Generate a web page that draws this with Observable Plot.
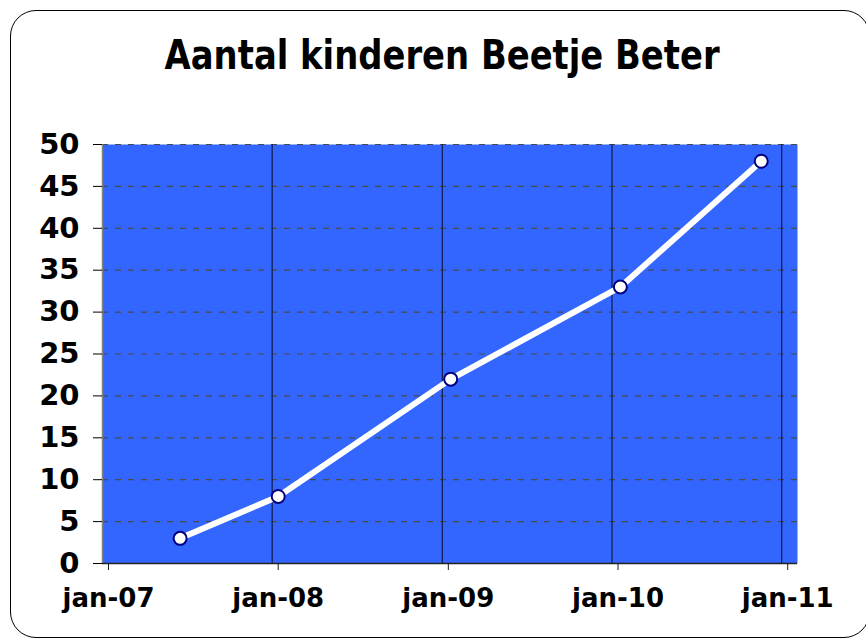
<!DOCTYPE html>
<html>
<head>
<meta charset="utf-8">
<script src="https://cdn.jsdelivr.net/npm/d3@7"></script>
<script src="https://cdn.jsdelivr.net/npm/@observablehq/plot@0.6"></script>
<style>
  html, body { margin: 0; padding: 0; background: #fff; }
  body { width: 866px; height: 641px; overflow: hidden; position: relative; font-family: "DejaVu Sans", Verdana, sans-serif; }
  #frame { position: absolute; left: 10px; top: 10px; width: 860px; height: 628px; border: 1.5px solid #000; border-radius: 26px; box-sizing: border-box; }
  #title { position: absolute; left: 9px; top: 32px; width: 866px; text-align: center; white-space: nowrap; }
  #title span { display: inline-block; font-weight: bold; font-size: 40px; color: #000; transform-origin: 50% 50%; }
  #chart { position: absolute; left: 0; top: 100px; }
</style>
</head>
<body>
<div id="frame"></div>
<div id="title"><span>Aantal kinderen Beetje Beter</span></div>
<div id="chart"></div>
<script>
const title = "Aantal kinderen Beetje Beter";
const dates = [new Date(2007, 5, 17), new Date(2008, 0, 14), new Date(2009, 0, 19), new Date(2010, 0, 19), new Date(2010, 10, 18)];
const counts = [3, 8, 22, 33, 48];
const xTickDates = [new Date(2007, 0, 1), new Date(2008, 0, 1), new Date(2009, 0, 1), new Date(2010, 0, 1), new Date(2011, 0, 1)];
const xTickLabels = ["jan-07", "jan-08", "jan-09", "jan-10", "jan-11"];
const yTicks = [0, 5, 10, 15, 20, 25, 30, 35, 40, 45, 50];

const data = dates.map((d, i) => ({date: d, value: counts[i]}));
const labelOf = new Map(xTickDates.map((d, i) => [+d, xTickLabels[i]]));

// Title squeeze to match reference width
const span = document.querySelector("#title span");
span.textContent = title;
const w = span.getBoundingClientRect().width;
span.style.transform = `scaleX(${555 / w})`;

const chart = Plot.plot({
  width: 866,
  height: 541,
  marginTop: 44,
  marginLeft: 102,
  marginRight: 69,
  marginBottom: 78,
  style: {fontFamily: "DejaVu Sans, Verdana, sans-serif", background: "transparent", overflow: "visible"},
  x: {type: "time", domain: [new Date(2007, 0, 1), new Date(2011, 1, 4)]},
  y: {domain: [0, 50]},
  marks: [
    Plot.frame({fill: "#3366ff", stroke: null}),
    Plot.ruleY(yTicks.filter(d => d > 0), {stroke: "#4a4a4a", strokeWidth: 1.2, strokeDasharray: "6,7"}),
    Plot.ruleX(xTickDates.slice(1), {stroke: "#14205a", strokeWidth: 1.3}),
    Plot.ruleX([xTickDates[0]], {stroke: "#808080", strokeWidth: 1.5}),
    Plot.ruleY([0], {stroke: "#222", strokeWidth: 1.5}),
    Plot.axisX({ticks: xTickDates, tickFormat: d => labelOf.get(+d), tickSize: 7, tickPadding: 18, dx: 6, fontSize: 26, fontWeight: "bold", color: "#000", label: null, stroke: "#222"}),
    Plot.axisY({ticks: yTicks, tickSize: 9, tickPadding: 14, fontSize: 29, fontWeight: "bold", color: "#000", label: null}),
    Plot.line(data, {x: "date", y: "value", stroke: "white", strokeWidth: 6}),
    Plot.dot(data, {x: "date", y: "value", r: 6.5, fill: "white", stroke: "#000080", strokeWidth: 2})
  ]
});
document.getElementById("chart").appendChild(chart);
</script>
</body>
</html>
